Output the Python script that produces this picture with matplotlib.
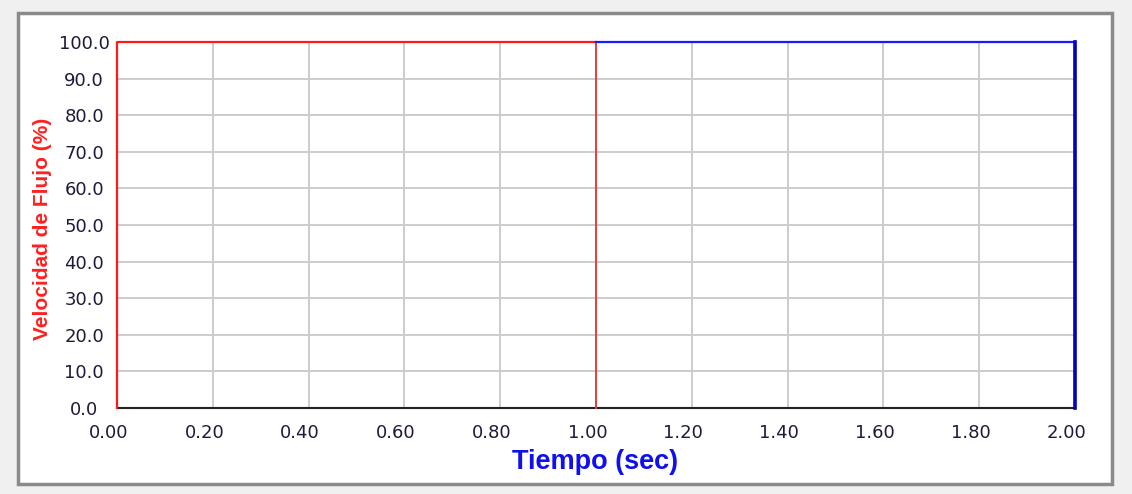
import matplotlib
matplotlib.use("Agg")
import matplotlib.pyplot as plt
import matplotlib.transforms as mtransforms
from matplotlib.patches import Rectangle

# Flow-rate step profile: first valve (red) open for the first second, second (blue) for the next
red_t = [0.0, 0.0, 1.0, 1.0]
red_v = [0.0, 100.0, 100.0, 0.0]
blue_t = [1.0, 2.0, 2.0]
blue_v = [100.0, 100.0, 0.0]

x_ticks = [0.0, 0.2, 0.4, 0.6, 0.8, 1.0, 1.2, 1.4, 1.6, 1.8, 2.0]
y_ticks = [0, 10, 20, 30, 40, 50, 60, 70, 80, 90, 100]

plt.rcParams['font.family'] = ['Liberation Sans', 'DejaVu Sans']

W, H = 1132, 494
fig = plt.figure(figsize=(W / 100, H / 100), dpi=100)
fig.patch.set_facecolor('#f0f0f0')

# white framed panel behind the plot
fig.patches.append(Rectangle((18 / W, 1 - 484 / H), 1094 / W, 471 / H,
                             transform=fig.transFigure, facecolor='white',
                             edgecolor='#8a8a8a', linewidth=2.5, zorder=-5))

ax = fig.add_axes([117 / W, 1 - 408 / H, (1075 - 117) / W, (408 - 42) / H])
ax.set_zorder(2)
ax.set_facecolor('white')
ax.set_xlim(0, 2.0)
ax.set_ylim(0, 100)
ax.set_xticks(x_ticks)
ax.set_yticks(y_ticks)
ax.set_xticklabels([f"{v:.2f}" for v in x_ticks])
ax.set_yticklabels([f"{v:.1f}" for v in y_ticks])
ax.tick_params(length=0, labelsize=13, labelcolor='#1c1c3a')
ax.tick_params(axis='x', pad=11.5)
ax.grid(True, color='#cccccc', linewidth=1.4)
ax.set_axisbelow(True)

tick_font = 'DejaVu Sans'
# value labels on y are centred in a column left of the plot
for lab in ax.get_yticklabels():
    lab.set_fontfamily(tick_font)
    lab.set_horizontalalignment('center')
    lab.set_transform(lab.get_transform() +
                      mtransforms.ScaledTranslation(-0.28, 0, fig.dpi_scale_trans))
for lab in ax.get_xticklabels():
    lab.set_fontfamily(tick_font)
    lab.set_transform(lab.get_transform() +
                      mtransforms.ScaledTranslation(-0.085, 0, fig.dpi_scale_trans))

for s in ['top', 'left']:
    ax.spines[s].set_visible(False)
ax.spines['bottom'].set_color('#222222')
ax.spines['bottom'].set_linewidth(1.5)
ax.spines['right'].set_color('#333333')
ax.spines['right'].set_linewidth(1.5)

ax.plot(red_t[:3], red_v[:3], color='#ff1a1a', linewidth=1.6, clip_on=False, zorder=3)
ax.plot(red_t[2:], red_v[2:], color='#e04040', linewidth=1.4, clip_on=False, zorder=3)
ax.plot(blue_t[:2], blue_v[:2], color='#1a1aff', linewidth=1.6, clip_on=False, zorder=3)
ax.plot(blue_t[1:], blue_v[1:], color='#0000c0', linewidth=2.6, clip_on=False, zorder=3)

fig.text(42.5 / W, 1 - 229 / H, 'Velocidad de Flujo (%)', rotation=90,
         ha='center', va='center', color='#ff2020', fontsize=15, fontweight='bold')
fig.text(595 / W, 1 - 462 / H, 'Tiempo (sec)', ha='center', va='center',
         color='#1010ee', fontsize=19.5, fontweight='bold')

fig.savefig('out.png', dpi=100, facecolor=fig.get_facecolor())
